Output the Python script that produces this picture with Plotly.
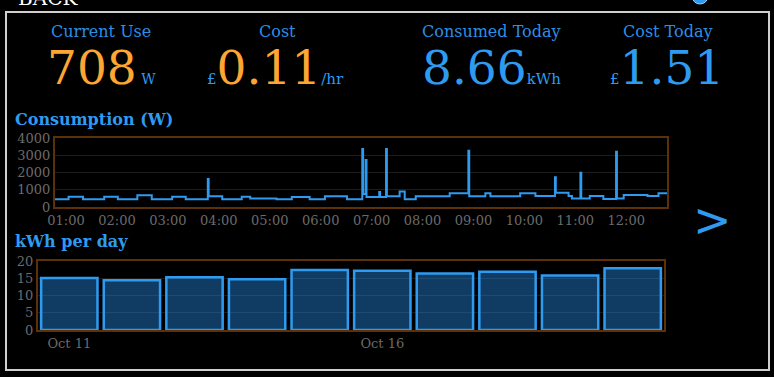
import plotly.graph_objects as go

W, H = 774, 377

# ---- data ----
power_times = ["00:47", "01:03", "01:20", "01:45", "02:01", "02:24", "02:41", "03:05", "03:21",
               "03:47", "03:48", "04:04", "04:27", "04:37", "05:08", "05:26", "05:47", "06:05",
               "06:31", "06:49", "06:50", "06:53", "06:54", "07:09", "07:10", "07:17", "07:18",
               "07:33", "07:39", "07:52", "08:32", "08:54", "08:55", "09:14", "09:20", "09:55",
               "10:13", "10:36", "10:37", "10:52", "10:56", "11:06", "11:07", "11:17", "11:33",
               "11:48", "11:49", "11:57", "12:25", "12:38", "12:48"]
power_watts = [450, 590, 450, 600, 450, 680, 450, 600, 450,
               1620, 620, 450, 600, 500, 450, 580, 450, 620,
               450, 3360, 750, 2720, 580, 870, 580, 3360, 620,
               900, 450, 620, 790, 3260, 620, 790, 620, 790,
               640, 1720, 830, 640, 500, 1990, 500, 640, 460,
               3210, 500, 700, 640, 790, 790]
power_ticks = ["01:00", "02:00", "03:00", "04:00", "05:00", "06:00",
               "07:00", "08:00", "09:00", "10:00", "11:00", "12:00"]
power_yticks = [0, 1000, 2000, 3000, 4000]

days = ["2023-10-11", "2023-10-12", "2023-10-13", "2023-10-14", "2023-10-15",
        "2023-10-16", "2023-10-17", "2023-10-18", "2023-10-19", "2023-10-20"]
kwh = [15.1, 14.4, 15.3, 14.7, 17.4, 17.2, 16.4, 16.9, 15.8, 17.9]
day_tickvals = ["2023-10-11", "2023-10-16"]
day_ticktext = ["Oct 11", "Oct 16"]
kwh_yticks = [0, 5, 10, 15, 20]

current_use = "708"
cost_rate = "0.11"
consumed_today = "8.66"
cost_today = "1.51"

DATE = "2023-10-20 "
BLUE = "#2e9bf0"
LBLUE = "#2b8fe6"
ORANGE = "#ffa533"
BROWN = "#5c3108"
TICK = "#6b6b6b"
SERIF = "DejaVu Serif"


def X(px):
    return px / W


def Y(py):
    return 1 - py / H


fig = go.Figure()
fig.add_trace(go.Scatter(
    x=[DATE + t for t in power_times], y=power_watts, mode="lines",
    line=dict(color=BLUE, width=2, shape="hv"), xaxis="x", yaxis="y",
    hoverinfo="skip", showlegend=False))
fig.add_trace(go.Bar(
    x=days, y=kwh, xaxis="x2", yaxis="y2",
    marker=dict(color="rgba(40,150,250,0.4)", line=dict(color=BLUE, width=2.5)),
    showlegend=False, hoverinfo="skip"))

axis_common = dict(showline=True, mirror=True, linecolor=BROWN, linewidth=2,
                   zeroline=False, ticks="", automargin=False,
                   tickfont=dict(family=SERIF, size=13, color=TICK),
                   fixedrange=True)

fig.update_layout(
    template="none",
    width=W, height=H, autosize=False,
    margin=dict(l=0, r=0, t=0, b=0, pad=0),
    paper_bgcolor="black", plot_bgcolor="black",
    bargap=0.1,
    xaxis=dict(domain=[X(55), X(667)], anchor="y", type="date",
               range=[DATE + "00:47", DATE + "12:48"],
               tickvals=[DATE + t for t in power_ticks], ticktext=power_ticks,
               showgrid=False, **axis_common),
    yaxis=dict(domain=[Y(207), Y(138)], anchor="x", range=[0, 4000],
               tickvals=power_yticks, showgrid=True, gridcolor="#1c1c1c", gridwidth=1,
               **axis_common),
    xaxis2=dict(domain=[X(38), X(664)], anchor="y2", type="date",
                range=["2023-10-10 12:00", "2023-10-20 12:00"],
                tickvals=day_tickvals, ticktext=day_ticktext,
                showgrid=False, **axis_common),
    yaxis2=dict(domain=[Y(330), Y(261)], anchor="x2", range=[0, 20],
                tickvals=kwh_yticks, showgrid=True, gridcolor="#1a1a1a", gridwidth=1,
                **axis_common),
)

ann = []


def text(px, py, s, size, color, xanchor="left", yanchor="middle", family=SERIF):
    ann.append(dict(x=X(px), y=Y(py), xref="paper", yref="paper", text=s, showarrow=False,
                    xanchor=xanchor, yanchor=yanchor,
                    font=dict(family=family, size=size, color=color)))


def small(s, color=BLUE, size=15):
    return "<span style='font-size:%dpx;fill:%s'>%s</span>" % (size, color, s)


# header labels
text(101, 31, "Current Use", 16, LBLUE, xanchor="center")
text(277, 31, "Cost", 16, LBLUE, xanchor="center")
text(491, 31, "Consumed Today", 16, LBLUE, xanchor="center")
text(667, 31, "Cost Today", 16, LBLUE, xanchor="center")

# big values
text(45, 68, current_use + small(" W", size=14), 47, ORANGE)
text(205, 68, small("£") + cost_rate + small("/hr"), 47, ORANGE)
text(420, 68, consumed_today + small("kWh"), 47, BLUE)
text(608, 68, small("£") + cost_today, 47, BLUE)

# section titles
text(13, 119, "<b>Consumption (W)</b>", 16, BLUE)
text(13, 242, "<b>kWh per day</b>", 16, BLUE)

# arrow
text(712, 220, "&gt;", 46, BLUE, xanchor="center", family="DejaVu Sans")

# back
text(16, 12, "BACK", 20, "white", yanchor="bottom")

fig.update_layout(annotations=ann)

fig.add_shape(type="rect", xref="paper", yref="paper",
              x0=X(6), x1=X(769), y0=Y(370), y1=Y(12),
              line=dict(color="#cfcfcf", width=2), fillcolor="rgba(0,0,0,0)", layer="above")
fig.add_shape(type="circle", xref="paper", yref="paper",
              x0=X(692), x1=X(708), y0=Y(4), y1=Y(-12),
              line=dict(color="#8fd0ff", width=1), fillcolor=BLUE)

fig.write_html("out.html",
               config={"displayModeBar": False, "staticPlot": True},
               post_script="document.body.style.margin='0';document.body.style.background='black';document.body.style.overflow='hidden';")
